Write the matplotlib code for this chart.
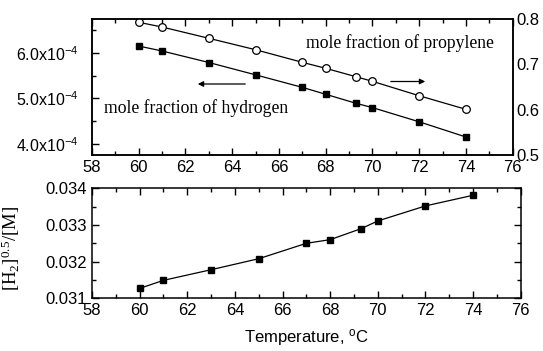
import matplotlib
matplotlib.use("Agg")
import matplotlib.pyplot as plt
from matplotlib.ticker import MultipleLocator, FixedLocator

plt.rcParams["font.family"] = ["Liberation Sans", "DejaVu Sans"]
plt.rcParams["mathtext.default"] = "regular"

# 온도별 데이터
temp = [60, 61, 63, 65, 67, 68, 69.3, 70, 72, 74]
x_h2 = [6.153e-4, 6.044e-4, 5.79e-4, 5.518e-4, 5.242e-4, 5.089e-4,
        4.89e-4, 4.795e-4, 4.482e-4, 4.147e-4]
x_c3 = [0.7927, 0.7823, 0.7574, 0.7322, 0.7044, 0.6912, 0.6726, 0.6625,
        0.6307, 0.6007]
ratio = [0.03127, 0.03149, 0.03178, 0.03208, 0.0325, 0.0326, 0.0329,
         0.03311, 0.03352, 0.03381]

left_ticks = [4.0e-4, 5.0e-4, 6.0e-4]
left_labels = ["4.0x10$^{-4}$", "5.0x10$^{-4}$", "6.0x10$^{-4}$"]

W, H = 543, 351
fig = plt.figure(figsize=(W / 100, H / 100), dpi=100)
ax1 = fig.add_axes([0.1694, 0.5584, 0.9442 - 0.1694, 0.9459 - 0.5584])
ax3 = fig.add_axes([0.1694, 0.1501, 0.959 - 0.1694, 0.4635 - 0.1501])

serif = ["Liberation Serif", "DejaVu Serif"]
tick_fs = 12

# 위 그래프: 수소/프로필렌 몰분율
ax1.plot(temp, x_h2, color="black", lw=0.9, marker="s", ms=5,
         mfc="black", mec="black")
ax1.set_xlim(58, 76)
ax1.set_ylim(3.75e-4, 6.75e-4)
ax1.xaxis.set_major_locator(MultipleLocator(2))
ax1.xaxis.set_minor_locator(MultipleLocator(1))
ax1.yaxis.set_major_locator(FixedLocator(left_ticks))
ax1.yaxis.set_minor_locator(MultipleLocator(0.5e-4))
ax1.set_yticklabels(left_labels)
ax1.tick_params(which="both", direction="in", top=True, right=True,
                labelsize=tick_fs, width=1)
ax1.tick_params(which="major", length=5)
ax1.tick_params(which="minor", length=3)
ax1.tick_params(axis="y", pad=10, labelsize=11.5)

ax2 = ax1.twinx()
ax2.plot(temp, x_c3, color="black", lw=0.9, marker="o", ms=5.5,
         mfc="white", mec="black", mew=0.9)
ax2.set_ylim(0.5, 0.8)
ax2.set_yticks([0.5, 0.6, 0.7, 0.8])
ax2.set_yticklabels(["0.5", "0.6", "0.7", "0.8"])
ax2.tick_params(axis="y", length=0, labelsize=tick_fs, pad=3)

for ax in (ax1, ax2, ax3):
    for s in ax.spines.values():
        s.set_linewidth(1.1)

fig.text(306 / W, 1 - 43 / H, "mole fraction of propylene",
         family=serif, fontsize=12.7, va="center", ha="left")
fig.text(104 / W, 1 - 108 / H, "mole fraction of hydrogen",
         family=serif, fontsize=12.7, va="center", ha="left")

ax1.annotate("", xy=(195, H - 84), xytext=(248, H - 84),
             xycoords="figure pixels", textcoords="figure pixels",
             arrowprops=dict(arrowstyle="-|>", color="black", lw=0.9,
                             mutation_scale=8))
ax1.annotate("", xy=(428, H - 81.5), xytext=(388, H - 81.5),
             xycoords="figure pixels", textcoords="figure pixels",
             arrowprops=dict(arrowstyle="-|>", color="black", lw=0.9,
                             mutation_scale=8))

# 아래 그래프: [H2]^0.5/[M]
ax3.plot(temp, ratio, color="black", lw=0.9, marker="s", ms=5,
         mfc="black", mec="black")
ax3.set_xlim(58, 76)
ax3.set_ylim(0.031, 0.034)
ax3.xaxis.set_major_locator(MultipleLocator(2))
ax3.xaxis.set_minor_locator(MultipleLocator(1))
ax3.yaxis.set_major_locator(MultipleLocator(0.001))
ax3.yaxis.set_minor_locator(MultipleLocator(0.0005))
ax3.yaxis.set_major_formatter(plt.FormatStrFormatter("%.3f"))
ax3.tick_params(which="both", direction="in", labelsize=tick_fs, width=1)
ax3.tick_params(which="major", length=5)
ax3.tick_params(which="minor", length=3)
ax3.tick_params(which="both", top=True, right=True)
ax3.set_xlabel("Temperature, $^{o}$C", fontsize=12, labelpad=6)
ax3.set_ylabel("[H$_2$]$^{0.5}$/[M]", fontsize=13.5, family=serif)
ax3.yaxis.set_label_coords(-0.163, 0.45)

fig.savefig("out.png", dpi=100)
